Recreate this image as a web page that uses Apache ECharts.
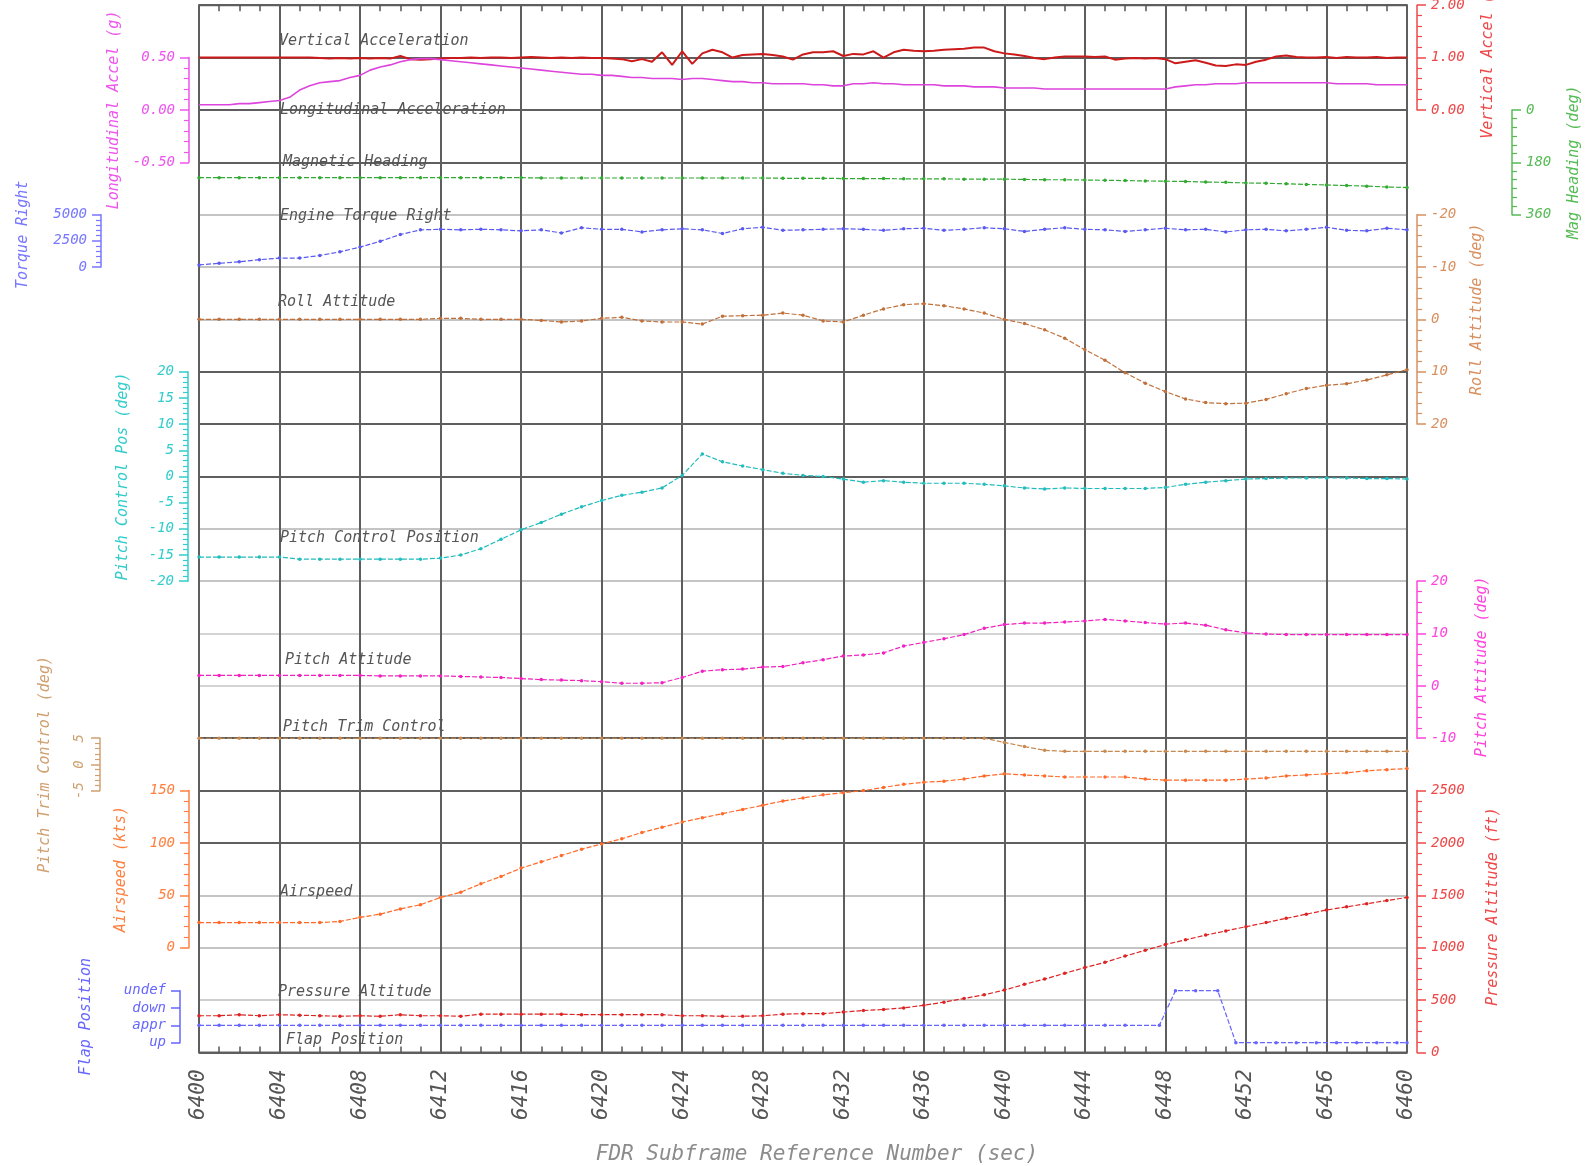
<!DOCTYPE html>
<html><head><meta charset="utf-8">
<script src="https://cdn.jsdelivr.net/npm/echarts@6/dist/echarts.min.js"></script>
<style>html,body{margin:0;padding:0;background:#fff}#c{width:1585px;height:1166px}</style>
</head><body><div id="c"></div><script>
// ---------------- DATA ----------------
const T_START = 6400, T_END = 6460;
const t2Hz = []; for (let i = 0; i <= 120; i++) t2Hz.push(T_START + i * 0.5);
const t1Hz = []; for (let i = 0; i <= 60; i++) t1Hz.push(T_START + i);

const vertAccel = [
 1.00,1.00,1.00,1.00,1.00,1.00,1.00,1.00,1.00,1.00,1.00,1.00,
 0.99,0.98,0.99,0.98,0.99,0.98,0.99,0.98,
 1.03,0.97,0.96,0.97,0.98,0.99,0.99,1.00,0.99,1.00,
 1.00,0.99,1.00,1.01,1.00,0.99,1.00,0.99,1.00,0.99,
 0.99,0.98,0.97,0.93,0.97,0.92,1.10,0.86,1.12,0.88,
 1.08,1.15,1.10,1.00,1.05,1.06,1.07,1.05,1.02,0.96,
 1.06,1.10,1.10,1.12,1.03,1.07,1.06,1.12,1.00,1.10,
 1.15,1.13,1.12,1.13,1.15,1.16,1.17,1.19,1.19,1.12,
 1.08,1.06,1.03,0.99,0.97,1.00,1.02,1.02,1.02,1.01,
 1.02,0.96,0.98,0.99,0.98,0.99,0.97,0.89,0.92,0.95,
 0.90,0.85,0.84,0.87,0.86,0.92,0.96,1.02,1.04,1.01,
 1.00,1.00,1.01,0.99,1.01,1.00,1.00,1.01,0.99,1.00,
 1.00];
const longAccel = [
 0.05,0.05,0.05,0.05,0.06,0.06,0.07,0.08,0.09,0.12,
 0.19,0.23,0.26,0.27,0.28,0.31,0.33,0.38,0.41,0.43,
 0.46,0.48,0.49,0.49,0.48,0.47,0.46,0.45,0.44,0.43,
 0.42,0.41,0.40,0.39,0.38,0.37,0.36,0.35,0.34,0.34,
 0.33,0.33,0.32,0.31,0.31,0.30,0.30,0.30,0.29,0.30,
 0.30,0.29,0.28,0.27,0.27,0.26,0.26,0.25,0.25,0.25,
 0.25,0.24,0.24,0.23,0.23,0.25,0.25,0.26,0.25,0.25,
 0.24,0.24,0.24,0.24,0.23,0.23,0.23,0.22,0.22,0.22,
 0.21,0.21,0.21,0.21,0.20,0.20,0.20,0.20,0.20,0.20,
 0.20,0.20,0.20,0.20,0.20,0.20,0.20,0.22,0.23,0.24,
 0.24,0.25,0.25,0.25,0.26,0.26,0.26,0.26,0.26,0.26,
 0.26,0.26,0.26,0.25,0.25,0.25,0.25,0.24,0.24,0.24,
 0.24];
const magHeading = [
 233,233,233,233,233,233,233,233,233,233,233,233,233,233,233,233,233,
 234,234,234,234,234,234,234,234,234,234,234,234,
 235,235,235,236,236,236,237,237,237,238,238,238,
 239,240,240,241,242,243,244,245,
 246,248,249,251,252,254,256,258,
 260,262,265,267];
const torqueRight = [
 200,350,500,700,850,850,1100,1450,1900,2450,3100,3550,3600,3550,3600,3550,3450,3550,3250,3750,
 3600,3600,3350,3550,3650,3550,3200,3650,3800,3500,3550,3600,3650,3600,3500,3650,3700,3500,3600,3750,
 3650,3400,3600,3750,3600,3550,3400,3550,3700,3550,3600,3350,3550,3600,3450,3600,3800,3500,3450,3700,
 3550];
const rollAttitude = [
 0,0,0,0,0,0,0,0,0,0,0,0,-0.2,-0.2,0,0,0,
 0.2,0.5,0.3,-0.2,-0.4,0.3,0.5,0.5,0.9,-0.6,-0.7,-0.8,-1.2,-0.8,0.3,0.5,-0.8,-2.0,-2.8,-3.0,-2.6,-2.0,-1.2,
 0.0,0.8,2.0,3.6,5.8,7.8,10.2,12.2,13.8,15.2,15.9,16.1,16.0,15.3,14.2,13.2,12.6,12.3,11.6,10.6,9.6];
const pitchControl = [
 -15.4,-15.4,-15.4,-15.4,-15.4,
 -15.8,-15.8,-15.8,-15.8,-15.8,-15.8,-15.8,-15.6,
 -15.0,-13.8,-12.0,-10.2,-8.8,-7.2,-5.8,-4.6,-3.6,-3.0,-2.2,0.2,4.3,2.8,2.0,1.3,0.6,0.2,0.0,-0.5,
 -1.1,-0.8,-1.1,-1.3,-1.3,-1.3,-1.5,-1.8,-2.2,-2.4,-2.2,-2.3,-2.3,-2.3,-2.3,-2.1,-1.5,-1.1,-0.8,-0.5,
 -0.4,-0.3,-0.3,-0.3,-0.3,-0.4,-0.4,-0.5];
const pitchAttitude = [
 2.0,2.0,2.0,2.0,2.0,2.0,2.0,2.0,2.0,1.9,1.9,1.9,1.9,
 1.8,1.7,1.6,1.4,1.2,1.1,1.0,0.8,0.5,0.5,0.6,1.6,2.8,3.1,3.2,3.6,3.7,4.4,5.0,5.7,5.9,6.3,7.6,8.3,9.0,9.8,11.0,
 11.7,12.0,12.0,12.2,12.4,12.7,12.4,12.1,11.8,12.0,11.6,10.7,10.1,9.9,9.8,9.8,9.8,9.8,9.8,9.8,9.8];
const pitchTrim = [
 5,5,5,5,5,5,5,5,5,5,5,5,5,5,5,5,5,5,5,5,
 5,5,5,5,5,5,5,5,5,5,5,5,5,5,5,5,5,5,5,5,
 4.2,3.4,2.7,2.5,2.5,2.5,2.5,2.5,2.5,2.5,2.5,2.5,2.5,2.5,2.5,2.5,2.5,2.5,2.5,2.5,2.5];
const airspeed = [
 24,24,24,24,24,24,24,
 25,29,32,37,41,48,53,61,68,76,82,88,94,99,104,110,115,120,124,128,132,136,140,143,146,148,150,153,156,158,159,161,164,
 166,165,164,163,163,163,163,161,160,160,160,160,161,162,164,165,166,167,169,170,171];
const pressAltitude = [
 350,350,360,350,360,355,350,345,350,345,360,350,350,345,365,365,365,365,365,360,
 360,360,360,360,350,350,345,345,350,365,370,370,385,400,410,425,450,480,515,550,
 595,650,700,755,810,860,920,975,1030,1075,1120,1160,1200,1240,1280,1320,1360,1390,1420,1450,
 1480];
const flapTime = [
 6400,6401,6402,6403,6404,6405,6406,6407,6408,6409,6410,6411,6412,6413,6414,6415,6416,6417,6418,6419,
 6420,6421,6422,6423,6424,6425,6426,6427,6428,6429,6430,6431,6432,6433,6434,6435,6436,6437,6438,6439,
 6440,6441,6442,6443,6444,6445,6446,6447.7,6448.5,6449.5,6450.6,6451.5,6452.5,6453.5,6454.5,6455.5,6456.5,6457.5,6458.5,6459.5,6460];
const flapValue = [
 1,1,1,1,1,1,1,1,1,1,1,1,1,1,1,1,1,1,1,1,
 1,1,1,1,1,1,1,1,1,1,1,1,1,1,1,1,1,1,1,1,
 1,1,1,1,1,1,1,1,3,3,3,0,0,0,0,0,0,0,0,0,0];
const flapLabels = ['up', 'appr', 'down', 'undef'];
const seriesLabels = ['Vertical Acceleration','Longitudinal Acceleration','Magnetic Heading','Engine Torque Right',
 'Roll Attitude','Pitch Control Position','Pitch Attitude','Pitch Trim Control','Airspeed','Pressure Altitude','Flap Position'];
const xTitle = 'FDR Subframe Reference Number (sec)';

// ---------------- LAYOUT ----------------
const FONT = 'DejaVu Sans Mono';
const L = 199, RGT = 1585 - 1407, TOP = 5.2, ROW = 52.36;
const rowY = k => TOP + k * ROW;
const zip = (a, b) => a.map((x, i) => [x, b[i]]);

const panels = [
 {t:t2Hz, d:vertAccel, top:rowY(0), h:2*ROW, pos:'right', off:10, min:0, max:2, step:1, minor:5, fmt:v=>v.toFixed(2),
  ac:'#ee4848', lc:'#cc1a1a', name:'Vertical Accel (g)', gap:71, sym:'none', w:2},
 {t:t2Hz, d:longAccel, top:rowY(1), h:2*ROW, pos:'left', off:10, min:-0.5, max:0.5, step:0.5, minor:5, fmt:v=>v.toFixed(2),
  ac:'#ee55ee', lc:'#dd44dd', name:'Longitudinal Accel (g)', gap:75, sym:'none', w:1.6},
 {t:t1Hz, d:magHeading, top:rowY(2), h:2*ROW, pos:'right', off:105, min:0, max:360, step:180, minor:6, inv:true, fmt:v=>String(v),
  ac:'#55bb55', lc:'#33aa33', name:'Mag Heading (deg)', gap:62, sym:'circle', w:1.2},
 {t:t1Hz, d:torqueRight, top:rowY(4), h:ROW, pos:'left', off:98, min:0, max:5000, step:2500, minor:5, fmt:v=>String(v),
  ac:'#7777ff', lc:'#5a5af0', name:'Torque Right', gap:78, pad:[0,0,0,12], sym:'circle', w:1.2},
 {t:t1Hz, d:rollAttitude, top:rowY(4), h:4*ROW, pos:'right', off:10, min:-20, max:20, step:10, minor:5, inv:true, fmt:v=>String(v),
  ac:'#d89060', lc:'#c0703a', name:'Roll Attitude (deg)', gap:60, pad:[0,0,0,20], sym:'circle', w:1.2},
 {t:t1Hz, d:pitchControl, top:rowY(7), h:4*ROW, pos:'left', off:11, min:-20, max:20, step:5, minor:5, fmt:v=>String(v),
  ac:'#33cccc', lc:'#22bcbc', name:'Pitch Control Pos (deg)', gap:65, sym:'circle', w:1.2},
 {t:t1Hz, d:pitchAttitude, top:rowY(11), h:3*ROW, pos:'right', off:10, min:-10, max:20, step:10, minor:5, fmt:v=>String(v),
  ac:'#ff44dd', lc:'#f022c0', name:'Pitch Attitude (deg)', gap:65, pad:[0,14,0,0], sym:'circle', w:1.2},
 {t:t1Hz, d:pitchTrim, top:rowY(14), h:ROW, pos:'left', off:99, min:-5, max:5, step:5, minor:5, fmt:v=>String(v), rot:90,
  ac:'#d0a070', lc:'#c88a50', name:'Pitch Trim Control (deg)', gap:55, sym:'circle', w:1.2},
 {t:t1Hz, d:airspeed, top:rowY(15), h:3*ROW, pos:'left', off:10, min:0, max:150, step:50, minor:5, fmt:v=>String(v),
  ac:'#ff8040', lc:'#ff6a2a', name:'Airspeed (kts)', gap:68, sym:'circle', w:1.2},
 {t:t1Hz, d:pressAltitude, top:rowY(15), h:5*ROW, pos:'right', off:10, min:0, max:2500, step:500, minor:5, fmt:v=>String(v),
  ac:'#ee4848', lc:'#dd2424', name:'Pressure Altitude (ft)', gap:76, pad:[0,0,0,30], sym:'circle', w:1.2},
 {t:flapTime, d:flapValue, top:990.7, h:52, pos:'left', off:19, min:0, max:3, step:1, minor:0, fmt:v=>flapLabels[v],
  ac:'#6666ff', lc:'#6666ff', name:'Flap Position', gap:94, sym:'circle', w:1.2}
];

const gridLineColors = ['#5e5e5e','#5e5e5e','#5e5e5e','#5e5e5e','#c4c4c4','#c4c4c4','#c4c4c4','#5e5e5e','#5e5e5e','#5e5e5e',
 '#c4c4c4','#c4c4c4','#d4d4d4','#d4d4d4','#5e5e5e','#5e5e5e','#5e5e5e','#c4c4c4','#c4c4c4','#cfcfcf','#5e5e5e'];

const grids = [{left:L, right:RGT, top:rowY(0), height:20*ROW, show:true, borderColor:'#666', borderWidth:2,
  containLabel:false, outerBoundsMode:'none'}];
const tickAxis = pos => ({type:'value', gridIndex:0, min:T_START, max:T_END, interval:4, position:pos, offset:-6,
  axisLine:{show:false}, axisTick:{show:false}, axisLabel:{show:false}, splitLine:{show:false},
  minorTick:{show:true, splitNumber:4, length:6, lineStyle:{color:'#555', width:1.5}}});
const xAxes = [
 {type:'value', gridIndex:0, min:T_START, max:T_END, interval:4, position:'bottom',
  axisLine:{show:false}, axisTick:{show:false}, minorTick:{show:false},
  splitLine:{show:true, lineStyle:{color:'#5e5e5e', width:2}},
  axisLabel:{rotate:90, margin:17, fontSize:21, fontStyle:'italic', fontFamily:FONT, color:'#555', formatter:v=>String(v)},
  name:xTitle, nameLocation:'middle', nameGap:92, nameMoveOverlap:false,
  nameTextStyle:{fontSize:21, fontStyle:'italic', fontFamily:FONT, color:'#8c8c8c', padding:[0,0,0,28]}},
 tickAxis('top'),
 tickAxis('bottom')
];

const yAxes = [{type:'value', gridIndex:0, min:0, max:20, interval:1, inverse:true,
  axisLine:{show:false}, axisTick:{show:false}, axisLabel:{show:false},
  splitLine:{show:true, lineStyle:{color:gridLineColors, width:2}}}];
const series = [];

panels.forEach((p, i) => {
  grids.push({left:L, right:RGT, top:p.top, height:p.h, show:false, containLabel:false, outerBoundsMode:'none'});
  const gi = grids.length - 1;
  xAxes.push({type:'value', gridIndex:gi, min:T_START, max:T_END, show:false});
  const xi = xAxes.length - 1;
  yAxes.push({type:'value', gridIndex:gi, position:p.pos, offset:p.off, min:p.min, max:p.max, interval:p.step,
    inverse:!!p.inv,
    axisLine:{show:true, onZero:false, lineStyle:{color:p.ac, width:1.5}},
    axisTick:{show:true, inside:false, length:9, lineStyle:{color:p.ac, width:1.5}},
    minorTick:{show:p.minor > 0, splitNumber:p.minor || 5, length:5, lineStyle:{color:p.ac, width:1.2}},
    splitLine:{show:false},
    axisLabel:{show:true, margin:14, fontSize:14, fontStyle:'italic', fontFamily:FONT, color:p.ac,
      formatter:p.fmt, rotate:p.rot || 0},
    name:p.name, nameLocation:'middle', nameRotate:90, nameGap:p.gap, nameMoveOverlap:false,
    nameTextStyle:{fontSize:15, fontStyle:'italic', fontFamily:FONT, color:p.ac, align:'center', verticalAlign:'middle',
      padding:p.pad || 0}});
  const yi = yAxes.length - 1;
  series.push({type:'line', xAxisIndex:xi, yAxisIndex:yi, data:zip(p.t, p.d), clip:false,
    symbol:p.sym, symbolSize:3.5, showSymbol:p.sym !== 'none',
    itemStyle:{color:p.lc}, lineStyle:{color:p.lc, width:p.w, type:p.sym === 'none' ? 'solid' : [5, 2]},
    animation:false, z:5});
});

const labelPos = [[279,41],[280,110],[283,162],[280,216],[278,302],[280,538],[285,660],[283,727],[280,892],[278,992],[286,1040]];
const graphic = seriesLabels.map((s, i) => ({type:'text', x:labelPos[i][0], y:labelPos[i][1], z:50,
  style:{text:s, fill:'#555', font:'italic 15px "' + FONT + '"', verticalAlign:'middle', align:'left'}}));

const chart = echarts.init(document.getElementById('c'), null, {renderer:'canvas'});
chart.setOption({animation:false, backgroundColor:'#fff', textStyle:{fontFamily:FONT},
  grid:grids, xAxis:xAxes, yAxis:yAxes, series:series, graphic:graphic});
</script></body></html>
